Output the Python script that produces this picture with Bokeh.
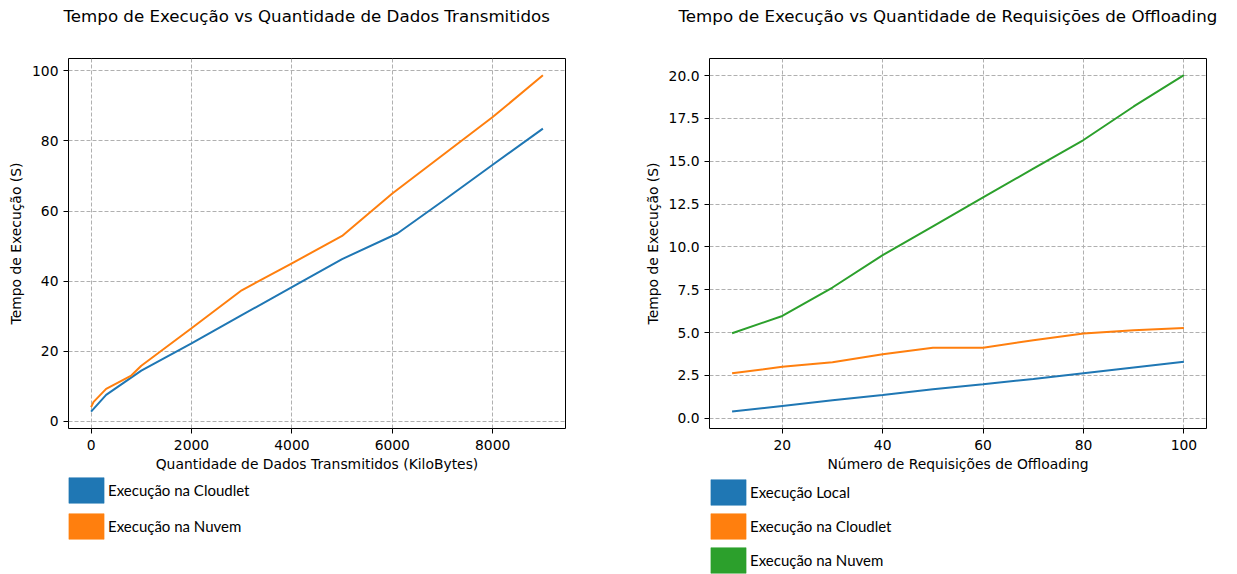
from bokeh.plotting import figure
from bokeh.models import (Range1d, FixedTicker, Legend, LegendItem, Title,
                          NumeralTickFormatter)
from bokeh.layouts import row, column
from bokeh.embed import file_html
from bokeh.resources import INLINE

# ---------------- data ----------------
# Left chart: execution time vs transmitted data (KB)
kb_cloudlet = [0, 300, 1000, 2000, 3000, 4000, 5000, 6100, 7000, 8000, 9000]
t_cloudlet = [2.8, 7.6, 14.5, 22.3, 30.3, 38.3, 46.3, 53.6, 62.8, 73.2, 83.5]
kb_nuvem = [0, 50, 300, 800, 1000, 2000, 3000, 4000, 5000, 6000, 7000, 8000, 9000]
t_nuvem = [4.1, 5.6, 9.3, 13.1, 15.9, 26.6, 37.4, 45.1, 52.9, 65.0, 75.9, 86.8, 98.7]

# Right chart: execution time vs number of offloading requests
requisicoes = [10, 20, 30, 40, 50, 60, 70, 80, 90, 100]
t_local = [0.39, 0.72, 1.05, 1.36, 1.69, 1.98, 2.29, 2.63, 2.96, 3.29]
t_req_cloudlet = [2.63, 3.00, 3.27, 3.74, 4.12, 4.12, 4.55, 4.94, 5.14, 5.26]
t_req_nuvem = [4.96, 5.97, 7.63, 9.52, 11.2, 12.89, 14.57, 16.24, 18.2, 20.03]

left_xticks = [0, 2000, 4000, 6000, 8000]
left_yticks = [0, 20, 40, 60, 80, 100]
right_xticks = [20, 40, 60, 80, 100]
right_yticks = [0, 2.5, 5, 7.5, 10, 12.5, 15, 17.5, 20]

title_left = "Tempo de Execução vs Quantidade de Dados Transmitidos"
title_right = "Tempo de Execução vs Quantidade de Requisições de Offloading"
xlabel_left = "Quantidade de Dados Transmitidos (KiloBytes)"
xlabel_right = "Número de Requisições de Offloading"
ylabel = "Tempo de Execução (S)"
labels_left = ["Execução na Cloudlet", "Execução na Nuvem"]
labels_right = ["Execução Local", "Execução na Cloudlet", "Execução na Nuvem"]

BLUE = "#1f77b4"
ORANGE = "#ff7f0e"
GREEN = "#2ca02c"
FONT = "DejaVu Sans"
TICK_SIZE = "13.89px"
TITLE_SIZE = "16.67px"
NAN = float("nan")


def make_fig(width, bl, br, xr, yr, title, offset):
    p = figure(width=width, height=474, x_range=xr, y_range=yr,
               output_backend="svg", toolbar_location=None, tools="",
               min_border_left=bl, min_border_right=br,
               min_border_top=58, min_border_bottom=46, title=title)
    p.title.text_font = FONT
    p.title.text_font_size = TITLE_SIZE
    p.title.text_font_style = "normal"
    p.title.text_color = "#000000"
    p.title.align = "left"
    p.title.offset = offset
    p.title.vertical_align = "top"
    p.title.standoff = 8
    # spacer between title and frame
    p.add_layout(Title(text=" ", text_font_size=TITLE_SIZE, standoff=6), "above")
    p.outline_line_color = "black"
    p.outline_line_width = 1
    p.outline_line_alpha = 1
    p.background_fill_color = "white"
    p.border_fill_color = "white"
    for ax in (p.xaxis[0], p.yaxis[0]):
        ax.axis_line_color = None
        ax.major_tick_in = 0
        ax.major_tick_out = 5
        ax.major_tick_line_color = "black"
        ax.minor_tick_line_color = None
        ax.major_label_text_font = FONT
        ax.major_label_text_font_size = TICK_SIZE
        ax.major_label_text_color = "#000000"
        ax.axis_label_text_font = FONT
        ax.axis_label_text_font_size = TICK_SIZE
        ax.axis_label_text_font_style = "normal"
        ax.axis_label_text_color = "#000000"
    p.xaxis.major_label_standoff = 6
    p.yaxis.major_label_standoff = 5
    for g in (p.xgrid[0], p.ygrid[0]):
        g.grid_line_color = "#b0b0b0"
        g.grid_line_dash = "4 2"
        g.grid_line_width = 1
    return p


def legend_fig(width, labels, colors, loc, spacing):
    lf = figure(width=width, height=100, x_range=Range1d(0, 1),
                y_range=Range1d(0, 1), output_backend="svg",
                toolbar_location=None, tools="", x_axis_location=None,
                y_axis_location=None, min_border=0)
    lf.grid.visible = False
    lf.outline_line_color = None
    items = []
    for lab, col in zip(labels, colors):
        # legend proxy: a single undrawable (NaN) quad carrying the colour
        r = lf.quad(left=[NAN], right=[NAN], top=[NAN], bottom=[NAN],
                    fill_color=col, line_color=col, line_alpha=0.5)
        items.append(LegendItem(label=lab, renderers=[r]))
    leg = Legend(items=items, location=loc, orientation="vertical",
                 glyph_width=44, glyph_height=32, spacing=spacing,
                 padding=0, margin=0, label_standoff=0,
                 border_line_color=None, background_fill_alpha=0,
                 label_text_font="Lato", label_text_font_size="15px",
                 label_text_color="#000000")
    lf.add_layout(leg)
    return lf


# ---------------- left chart ----------------
p1 = make_fig(630, 68, 65, Range1d(-450, 9450), Range1d(-2.0, 103.5),
              title_left, -5)
p1.line(kb_cloudlet, t_cloudlet, line_color=BLUE, line_width=2)
p1.line(kb_nuvem, t_nuvem, line_color=ORANGE, line_width=2)
p1.xaxis.ticker = FixedTicker(ticks=left_xticks)
p1.yaxis.ticker = FixedTicker(ticks=left_yticks)
p1.xaxis.axis_label = xlabel_left
p1.yaxis.axis_label = ylabel
p1.xaxis.axis_label_standoff = 3
p1.yaxis.axis_label_standoff = 5
l1 = legend_fig(630, labels_left, [BLUE, ORANGE], (64, 32), 4)

# ---------------- right chart ----------------
p2 = make_fig(599, 79, 23, Range1d(5.5, 104.5), Range1d(-0.6, 21.0),
              title_right, -31)
p2.line(requisicoes, t_local, line_color=BLUE, line_width=2)
p2.line(requisicoes, t_req_cloudlet, line_color=ORANGE, line_width=2)
p2.line(requisicoes, t_req_nuvem, line_color=GREEN, line_width=2)
p2.xaxis.ticker = FixedTicker(ticks=right_xticks)
p2.yaxis.ticker = FixedTicker(ticks=right_yticks)
p2.yaxis.formatter = NumeralTickFormatter(format="0.0")
p2.xaxis.axis_label = xlabel_right
p2.yaxis.axis_label = ylabel
p2.xaxis.axis_label_standoff = 3
p2.yaxis.axis_label_standoff = 5
l2 = legend_fig(599, labels_right, [BLUE, ORANGE, GREEN], (76, -2), 2)

layout = column(row(p1, p2), row(l1, l2))
open("out.html", "w").write(file_html(layout, INLINE))
